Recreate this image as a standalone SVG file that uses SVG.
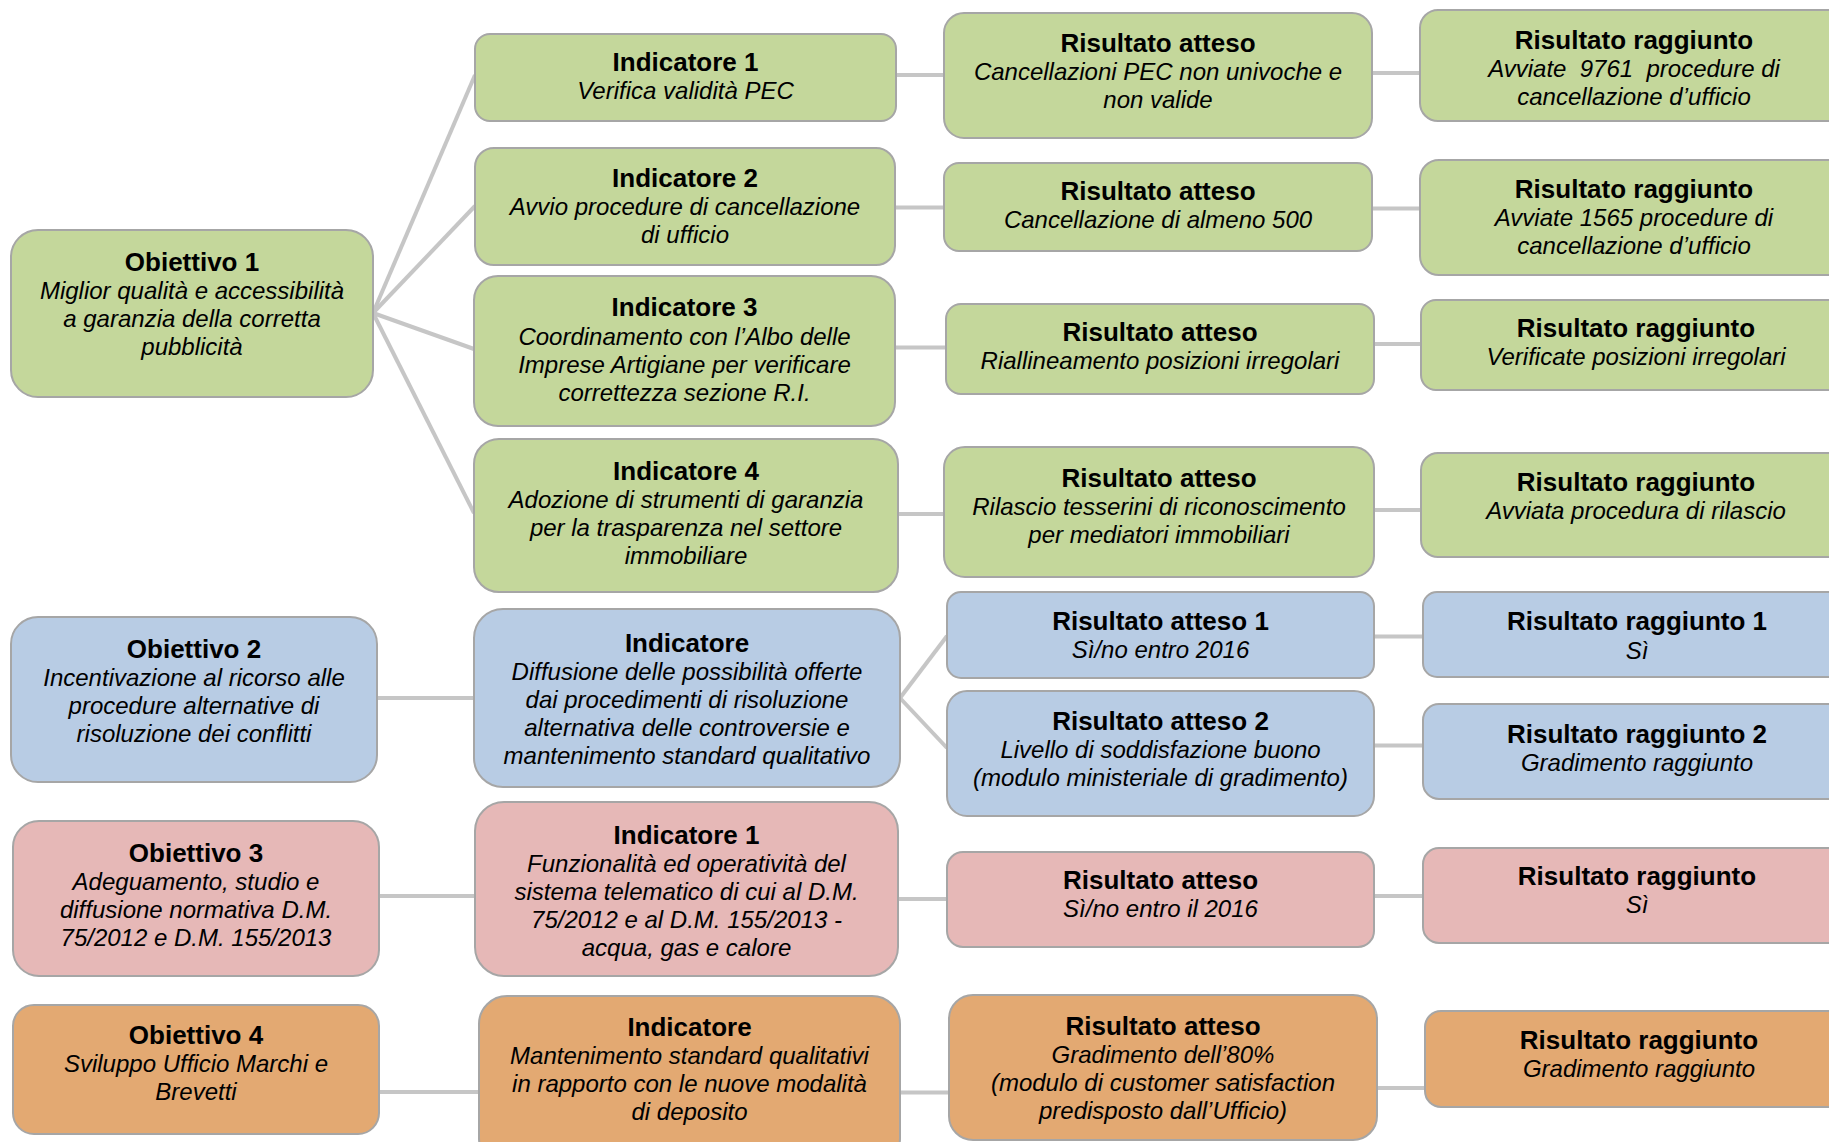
<svg xmlns="http://www.w3.org/2000/svg" width="1829" height="1142" viewBox="0 0 1829 1142">
<style>
.b{stroke:#a6a6a6;stroke-width:2}
.g{fill:#c4d79b}.bl{fill:#b8cce4}.p{fill:#e6b8b7}.o{fill:#e3a972}
text{font-family:"Liberation Sans",Arial,sans-serif;fill:#000;text-anchor:middle}
.t{font-size:26px;font-weight:bold}
.s{font-size:24px;font-style:italic}
.c line{stroke:#c6c6c6;stroke-width:4;stroke-linecap:butt}
</style>
<rect width="1829" height="1142" fill="#fff"/>
<g class="c" id="connectors">
<line x1="373" y1="313" x2="475" y2="75"/>
<line x1="373" y1="313" x2="475" y2="206"/>
<line x1="373" y1="313" x2="474" y2="349"/>
<line x1="373" y1="313" x2="474" y2="513"/>
<line x1="896" y1="75" x2="944" y2="75"/>
<line x1="1372" y1="73" x2="1420" y2="73"/>
<line x1="895" y1="207.5" x2="944" y2="207.5"/>
<line x1="1372" y1="208.5" x2="1420" y2="208.5"/>
<line x1="895" y1="347.5" x2="946" y2="347.5"/>
<line x1="1374" y1="344" x2="1421" y2="344"/>
<line x1="898" y1="514" x2="944" y2="514"/>
<line x1="1374" y1="510" x2="1421" y2="510"/>
<line x1="377" y1="698" x2="474" y2="698"/>
<line x1="900" y1="698" x2="947" y2="636"/>
<line x1="900" y1="698" x2="947" y2="748"/>
<line x1="1374" y1="636.5" x2="1423" y2="636.5"/>
<line x1="1374" y1="745.5" x2="1423" y2="745.5"/>
<line x1="379" y1="896" x2="475" y2="896"/>
<line x1="898" y1="899" x2="947" y2="899"/>
<line x1="1374" y1="896" x2="1423" y2="896"/>
<line x1="379" y1="1092" x2="479" y2="1092"/>
<line x1="900" y1="1092.5" x2="949" y2="1092.5"/>
<line x1="1377" y1="1088" x2="1425" y2="1088"/>
</g>

<g id="ob1"><rect class="b g" x="11" y="230" width="362" height="167" rx="27"/>
<text class="t" x="192" y="271">Obiettivo 1</text>
<text class="s"><tspan x="192" y="299">Miglior qualità e accessibilità</tspan><tspan x="192" y="327">a garanzia della corretta</tspan><tspan x="192" y="355">pubblicità</tspan></text></g>

<g id="ind1"><rect class="b g" x="475" y="34" width="421" height="87" rx="15"/>
<text class="t" x="685.5" y="71">Indicatore 1</text>
<text class="s" x="685.5" y="99">Verifica validità PEC</text></g>

<g id="ind2"><rect class="b g" x="475" y="148" width="420" height="117" rx="19"/>
<text class="t" x="685" y="187">Indicatore 2</text>
<text class="s"><tspan x="685" y="215">Avvio procedure di cancellazione</tspan><tspan x="685" y="243">di ufficio</tspan></text></g>

<g id="ind3"><rect class="b g" x="474" y="276" width="421" height="150" rx="24"/>
<text class="t" x="684.5" y="316">Indicatore 3</text>
<text class="s"><tspan x="684.5" y="345">Coordinamento con l’Albo delle</tspan><tspan x="684.5" y="373">Imprese Artigiane per verificare</tspan><tspan x="684.5" y="401">correttezza sezione R.I.</tspan></text></g>

<g id="ind4"><rect class="b g" x="474" y="439" width="424" height="153" rx="25"/>
<text class="t" x="686" y="480">Indicatore 4</text>
<text class="s"><tspan x="686" y="508">Adozione di strumenti di garanzia</tspan><tspan x="686" y="536">per la trasparenza nel settore</tspan><tspan x="686" y="564">immobiliare</tspan></text></g>

<g id="ra1"><rect class="b g" x="944" y="13" width="428" height="125" rx="20"/>
<text class="t" x="1158" y="52">Risultato atteso</text>
<text class="s"><tspan x="1158" y="80">Cancellazioni PEC non univoche e</tspan><tspan x="1158" y="108">non valide</tspan></text></g>

<g id="rr1"><rect class="b g" x="1420" y="10" width="440" height="111" rx="18"/>
<text class="t" x="1634" y="49">Risultato raggiunto</text>
<text class="s" xml:space="preserve"><tspan x="1634" y="77">Avviate  9761  procedure di</tspan><tspan x="1634" y="105">cancellazione d’ufficio</tspan></text></g>

<g id="ra2"><rect class="b g" x="944" y="163" width="428" height="88" rx="15"/>
<text class="t" x="1158" y="200">Risultato atteso</text>
<text class="s" x="1158" y="228">Cancellazione di almeno 500</text></g>

<g id="rr2"><rect class="b g" x="1420" y="160" width="440" height="115" rx="19"/>
<text class="t" x="1634" y="198">Risultato raggiunto</text>
<text class="s"><tspan x="1634" y="226">Avviate 1565 procedure di</tspan><tspan x="1634" y="254">cancellazione d’ufficio</tspan></text></g>

<g id="ra3"><rect class="b g" x="946" y="304" width="428" height="90" rx="15"/>
<text class="t" x="1160" y="341">Risultato atteso</text>
<text class="s" x="1160" y="369">Riallineamento posizioni irregolari</text></g>

<g id="rr3"><rect class="b g" x="1421" y="300" width="440" height="90" rx="15"/>
<text class="t" x="1636" y="337">Risultato raggiunto</text>
<text class="s" x="1636" y="365">Verificate posizioni irregolari</text></g>

<g id="ra4"><rect class="b g" x="944" y="447" width="430" height="130" rx="21"/>
<text class="t" x="1159" y="487">Risultato atteso</text>
<text class="s"><tspan x="1159" y="515">Rilascio tesserini di riconoscimento</tspan><tspan x="1159" y="543">per mediatori immobiliari</tspan></text></g>

<g id="rr4"><rect class="b g" x="1421" y="453" width="440" height="104" rx="17"/>
<text class="t" x="1636" y="491">Risultato raggiunto</text>
<text class="s" x="1636" y="519">Avviata procedura di rilascio</text></g>

<g id="ob2"><rect class="b bl" x="11" y="617" width="366" height="165" rx="27"/>
<text class="t" x="194" y="658">Obiettivo 2</text>
<text class="s"><tspan x="194" y="686">Incentivazione al ricorso alle</tspan><tspan x="194" y="714">procedure alternative di</tspan><tspan x="194" y="742">risoluzione dei conflitti</tspan></text></g>

<g id="ind5"><rect class="b bl" x="474" y="609" width="426" height="178" rx="29"/>
<text class="t" x="687" y="652">Indicatore</text>
<text class="s"><tspan x="687" y="680">Diffusione delle possibilità offerte</tspan><tspan x="687" y="708">dai procedimenti di risoluzione</tspan><tspan x="687" y="736">alternativa delle controversie e</tspan><tspan x="687" y="764">mantenimento standard qualitativo</tspan></text></g>

<g id="ra5"><rect class="b bl" x="947" y="592" width="427" height="86" rx="14"/>
<text class="t" x="1160.5" y="630">Risultato atteso 1</text>
<text class="s" x="1160.5" y="658">Sì/no entro 2016</text></g>

<g id="rr5"><rect class="b bl" x="1423" y="592" width="440" height="85" rx="14"/>
<text class="t" x="1637" y="630">Risultato raggiunto 1</text>
<text class="s" x="1637" y="659">Sì</text></g>

<g id="ra6"><rect class="b bl" x="947" y="691" width="427" height="125" rx="20"/>
<text class="t" x="1160.5" y="730">Risultato atteso 2</text>
<text class="s"><tspan x="1160.5" y="758">Livello di soddisfazione buono</tspan><tspan x="1160.5" y="786">(modulo ministeriale di gradimento)</tspan></text></g>

<g id="rr6"><rect class="b bl" x="1423" y="704" width="440" height="95" rx="16"/>
<text class="t" x="1637" y="743">Risultato raggiunto 2</text>
<text class="s" x="1637" y="771">Gradimento raggiunto</text></g>

<g id="ob3"><rect class="b p" x="13" y="821" width="366" height="155" rx="26"/>
<text class="t" x="196" y="862">Obiettivo 3</text>
<text class="s"><tspan x="196" y="890">Adeguamento, studio e</tspan><tspan x="196" y="918">diffusione normativa D.M.</tspan><tspan x="196" y="946">75/2012 e D.M. 155/2013</tspan></text></g>

<g id="ind6"><rect class="b p" x="475" y="802" width="423" height="174" rx="29"/>
<text class="t" x="686.5" y="844">Indicatore 1</text>
<text class="s"><tspan x="686.5" y="872">Funzionalità ed operatività del</tspan><tspan x="686.5" y="900">sistema telematico di cui al D.M.</tspan><tspan x="686.5" y="928">75/2012 e al D.M. 155/2013 -</tspan><tspan x="686.5" y="956">acqua, gas e calore</tspan></text></g>

<g id="ra7"><rect class="b p" x="947" y="852" width="427" height="95" rx="16"/>
<text class="t" x="1160.5" y="889">Risultato atteso</text>
<text class="s" x="1160.5" y="917">Sì/no entro il 2016</text></g>

<g id="rr7"><rect class="b p" x="1423" y="848" width="440" height="95" rx="16"/>
<text class="t" x="1637" y="885">Risultato raggiunto</text>
<text class="s" x="1637" y="913">Sì</text></g>

<g id="ob4"><rect class="b o" x="13" y="1005" width="366" height="129" rx="21"/>
<text class="t" x="196" y="1044">Obiettivo 4</text>
<text class="s"><tspan x="196" y="1072">Sviluppo Ufficio Marchi e</tspan><tspan x="196" y="1100">Brevetti</tspan></text></g>

<g id="ind7"><rect class="b o" x="479" y="996" width="421" height="170" rx="28"/>
<text class="t" x="689.5" y="1036">Indicatore</text>
<text class="s"><tspan x="689.5" y="1064">Mantenimento standard qualitativi</tspan><tspan x="689.5" y="1092">in rapporto con le nuove modalità</tspan><tspan x="689.5" y="1120">di deposito</tspan></text></g>

<g id="ra8"><rect class="b o" x="949" y="995" width="428" height="145" rx="24"/>
<text class="t" x="1163" y="1035">Risultato atteso</text>
<text class="s"><tspan x="1163" y="1063">Gradimento dell’80%</tspan><tspan x="1163" y="1091">(modulo di customer satisfaction</tspan><tspan x="1163" y="1119">predisposto dall’Ufficio)</tspan></text></g>

<g id="rr8"><rect class="b o" x="1425" y="1011" width="440" height="96" rx="16"/>
<text class="t" x="1639" y="1049">Risultato raggiunto</text>
<text class="s" x="1639" y="1077">Gradimento raggiunto</text></g>
</svg>
